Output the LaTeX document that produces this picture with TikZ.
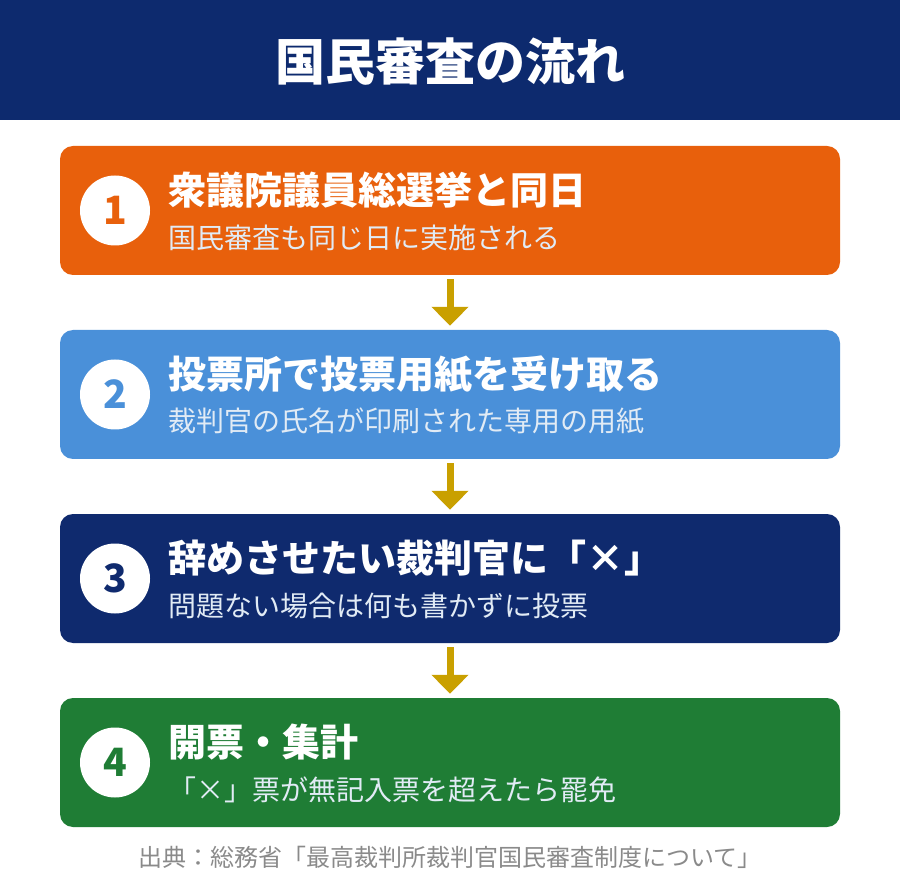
\documentclass[tikz,border=0pt]{standalone}
\usepackage{fontspec}
\setmainfont{Noto Sans CJK JP}
\usetikzlibrary{arrows.meta}

\definecolor{navyband}{HTML}{0D2A6E}
\definecolor{steporange}{HTML}{E8600C}
\definecolor{stepblue}{HTML}{4A90D9}
\definecolor{stepnavy}{HTML}{0F2A6E}
\definecolor{stepgreen}{HTML}{1F7D35}
\definecolor{arrowgold}{HTML}{C9A000}
\definecolor{subwhite}{HTML}{E1EBF5}
\definecolor{notegray}{HTML}{8A8A8A}

\begin{document}
\begin{tikzpicture}[x=1pt, y=-1pt,
    stepbox/.style={rounded corners=13pt, minimum width=780pt, minimum height=129pt, inner sep=0pt},
    numdot/.style={circle, fill=white, minimum size=70pt, inner sep=0pt, font=\fontsize{39}{42}\selectfont\bfseries},
    headtext/.style={text=white, inner sep=0pt, font=\fontsize{38}{42}\selectfont\bfseries},
    subtext/.style={text=subwhite, inner sep=0pt, font=\fontsize{28}{32}\selectfont},
    flowarrow/.style={draw=arrowgold, line width=7pt, shorten <=4pt, shorten >=4pt,
        -{Triangle[width=36pt, length=19pt, fill=arrowgold]}}]
    % Page
    \useasboundingbox (0,0) rectangle (900,882);
    \fill[white] (0,0) rectangle (900,882);

    % Header
    \fill[navyband] (0,0) rectangle (900,120);
    \node[text=white, font=\fontsize{50}{54}\selectfont\bfseries] (title) at (450,62) {国民審査の流れ};

    % Steps
    \foreach \i/\col/\head/\sub [evaluate=\i as \y using 210.5+(\i-1)*184] in {
        1/steporange/{衆議院議員総選挙と同日}/{国民審査も同じ日に実施される},
        2/stepblue/{投票所で投票用紙を受け取る}/{裁判官の氏名が印刷された専用の用紙},
        3/stepnavy/{辞めさせたい裁判官に「×」}/{問題ない場合は何も書かずに投票},
        4/stepgreen/{開票・集計}/{「×」票が無記入票を超えたら罷免}} {
        \node[stepbox, fill=\col] (box\i) at (450,\y) {};
        \node[numdot, text=\col] (num\i) at (115,\y) {\i};
        \node[headtext, anchor=west] (head\i) at (168,\y-20) {\head};
        \node[subtext, anchor=west] (sub\i) at (168,\y+27) {\sub};
    }

    % Arrows
    \foreach \i [evaluate=\i as \j using int(\i+1)] in {1,2,3} {
        \draw[flowarrow] (box\i) -- (box\j);
    }

    % Source
    \node[text=notegray, font=\fontsize{24}{27}\selectfont] (source) at (450,857) {出典：総務省「最高裁判所裁判官国民審査制度について」};
\end{tikzpicture}
\end{document}
